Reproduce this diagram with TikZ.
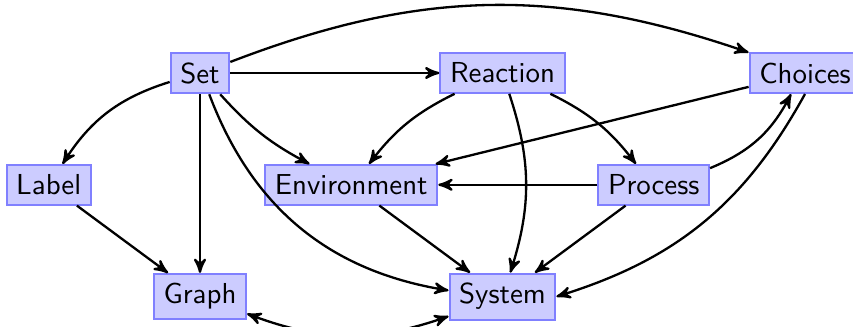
\documentclass[tikz,border=0pt]{standalone}
\usetikzlibrary{arrows}
\begin{document}
\begin{tikzpicture}[
  box/.style={draw=blue!50, fill=blue!20, font=\sffamily, line width=0.7pt},
  edge/.style={->, >=stealth', thick}
]
\useasboundingbox (-2.433,0.888) rectangle (7.944,-3.090);
\node[box] (set) at (0,0) {Set};
\node[box] (label) at (-1.84,-1.36) {Label};
\node[box] (graph) at (0,-2.72) {Graph};
\node[box] (env) at (1.84,-1.36) {Environment};
\node[box] (reaction) at (3.68,0) {Reaction};
\node[box] (system) at (3.68,-2.72) {System};
\node[box] (process) at (5.52,-1.36) {Process};
\node[box] (choices) at (7.36,0) {Choices};

\draw[edge] (set) -- (reaction);
\draw[edge] (set) to[bend left=20] (choices);
\draw[edge] (set) to[bend right=20] (label);
\draw[edge] (set) -- (graph);
\draw[edge] (set) to[bend right=10] (env);
\draw[edge] (set) to[bend right=30] (system);
\draw[edge] (reaction) to[bend right=13] (env);
\draw[edge] (reaction) to[bend left=18] (system);
\draw[edge] (reaction) to[bend left=13] (process);
\draw[edge] (choices) -- (env);
\draw[edge] (choices.south) to[bend left=22] (system.east);
\draw[edge] (process) -- (env);
\draw[edge] (process) to[bend right=20] (choices);
\draw[edge] (process) -- (system);
\draw[edge] (env) -- (system);
\draw[edge] (label) -- (graph);
\draw[edge, <->] (graph) to[bend right=20] (system);
\end{tikzpicture}
\end{document}
